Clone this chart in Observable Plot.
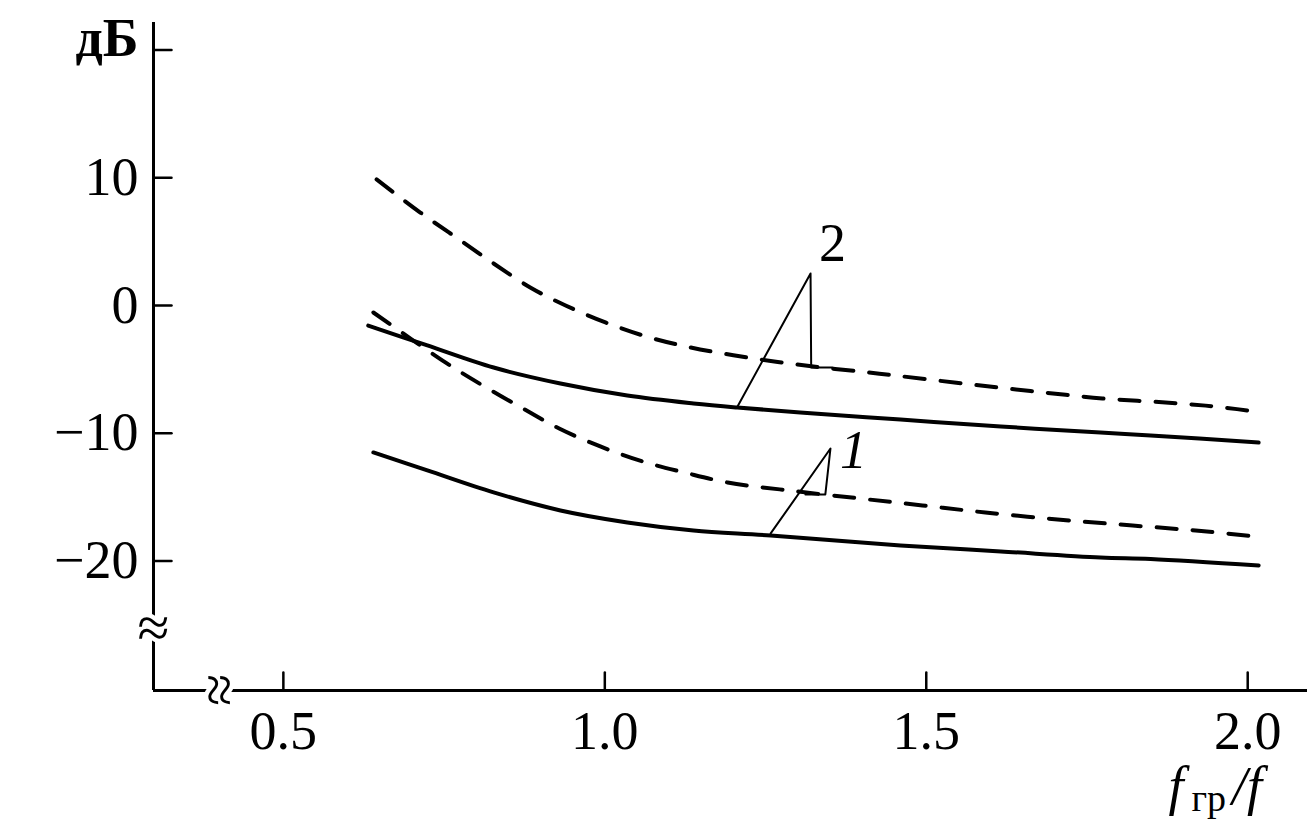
<!DOCTYPE html>
<html>
<head>
<meta charset="utf-8">
<script src="https://cdn.jsdelivr.net/npm/d3@7"></script>
<script src="https://cdn.jsdelivr.net/npm/@observablehq/plot@0.6"></script>
<style>
  html, body { margin: 0; padding: 0; background: #fff; }
  #chart svg { display: block; }
</style>
</head>
<body>
<div id="chart"></div>
<script>
// ---- Data ----
// Curve 2, solid
const curve2SolidX = [0.632, 0.724, 0.827, 0.931, 1.035, 1.138, 1.206, 1.304, 1.460, 1.616, 1.771, 1.849, 2.017];
const curve2SolidY = [-1.57, -3.13, -4.86, -6.11, -7.05, -7.67, -7.99, -8.38, -8.93, -9.48, -9.95, -10.18, -10.73];
// Curve 2, dashed
const curve2DashedX = [0.645, 0.713, 0.771, 0.827, 0.884, 0.939, 1.001, 1.066, 1.130, 1.200, 1.269, 1.339, 1.406, 1.454, 1.547, 1.625, 1.697, 1.774, 1.888, 1.956, 2.023];
const curve2DashedY = [9.87, 7.28, 5.25, 3.29, 1.41, 0.0, -1.33, -2.45, -3.25, -3.90, -4.42, -4.86, -5.22, -5.50, -6.05, -6.50, -6.89, -7.28, -7.65, -7.95, -8.38];
// Curve 1, solid
const curve1SolidX = [0.640, 0.724, 0.827, 0.931, 1.035, 1.138, 1.258, 1.460, 1.616, 1.771, 1.849, 2.017];
const curve1SolidY = [-11.51, -12.92, -14.64, -16.05, -16.99, -17.62, -18.01, -18.79, -19.26, -19.73, -19.85, -20.36];
// Curve 1, dashed
const curve1DashedX = [0.640, 0.752, 0.810, 0.870, 0.929, 0.993, 1.059, 1.124, 1.191, 1.287, 1.396, 1.494, 1.592, 1.723, 1.821, 1.919, 2.012];
const curve1DashedY = [-0.55, -4.46, -6.26, -7.99, -9.63, -11.04, -12.22, -13.08, -13.86, -14.49, -15.11, -15.66, -16.21, -16.84, -17.23, -17.62, -18.09];

// Annotation leaders (data units) and labels
const leader2X = [1.206, 1.320, 1.321, 1.354];
const leader2Y = [-7.95, 2.51, -4.86, -4.86];
const leader1X = [1.258, 1.351, 1.343, 1.312];
const leader1Y = [-17.85, -11.20, -14.80, -14.80];
const seriesLabels = ["2", "1"];
const seriesLabelX = [1.354, 1.387];
const seriesLabelY = [4.86, -11.35];

// Axes
const xTicks = [0.5, 1.0, 1.5, 2.0];
const xTickLabels = ["0.5", "1.0", "1.5", "2.0"];
const yTicks = [20, 10, 0, -10, -20];
const yNumTicks = [10, 0, -10, -20];
const yNumLabels = ["10", "0", "−10", "−20"];
const yUnitLabel = "дБ";
const xTitleParts = ["f", "гр", "/f"];
const xDomain = [0.298, 2.093];
const yDomain = [-30.15, 22.16];
const yBreakAt = -25.3;
const xBreakAt = 0.3996;

// ---- Build ----
const toRows = (xs, ys) => xs.map((x, i) => ({x, y: ys[i]}));
const serif = "'Liberation Serif', 'Times New Roman', serif";
const tickShape = {draw(ctx, l) { ctx.moveTo(0, 0); ctx.lineTo(0, -l); }};

const chart = Plot.plot({
  width: 1307,
  height: 827,
  marginLeft: 153,
  marginRight: 0,
  marginTop: 22,
  marginBottom: 137,
  x: {domain: xDomain},
  y: {domain: yDomain},
  style: {fontFamily: serif, fontSize: "54px", background: "#fff", color: "#000", overflow: "visible"},
  marks: [
    // axis lines
    Plot.ruleX([xDomain[0]], {stroke: "#000", strokeWidth: 3}),
    Plot.ruleY([yDomain[0]], {stroke: "#000", strokeWidth: 3}),
    // inward ticks
    Plot.vector(xTicks, {x: d => d, y: yDomain[0], length: 18, rotate: 0, anchor: "start", shape: tickShape, stroke: "#000", strokeWidth: 2.5}),
    Plot.vector(yTicks, {x: xDomain[0], y: d => d, length: 18, rotate: 90, anchor: "start", shape: tickShape, stroke: "#000", strokeWidth: 2.5}),
    // tick labels
    Plot.axisX({ticks: xTicks, tickFormat: d => xTickLabels[xTicks.indexOf(d)], tickSize: 0, tickPadding: 20, label: null, fontSize: 54, fontFamily: serif}),
    Plot.axisY({ticks: yNumTicks, tickFormat: d => yNumLabels[yNumTicks.indexOf(d)], tickSize: 0, tickPadding: 15, label: null, fontSize: 54, fontFamily: serif}),
    Plot.text([yUnitLabel], {x: xDomain[0], y: yTicks[0], text: d => d, textAnchor: "end", dx: -15, dy: -11, fontWeight: "bold", fontSize: 54, fontFamily: serif, fill: "#000"}),
    // axis breaks
    Plot.text(["≈"], {x: xDomain[0], y: yBreakAt, text: d => d, fontSize: 58, fontFamily: serif, fill: "#000", stroke: "#fff", strokeWidth: 9}),
    Plot.text(["≈"], {x: xBreakAt, y: yDomain[0], text: d => d, rotate: 90, fontSize: 58, fontFamily: serif, fill: "#000", stroke: "#fff", strokeWidth: 9}),
    // curves
    Plot.line(toRows(curve2DashedX, curve2DashedY), {x: "x", y: "y", curve: "catmull-rom", stroke: "#000", strokeWidth: 4, strokeDasharray: "20,16"}),
    Plot.line(toRows(curve1DashedX, curve1DashedY), {x: "x", y: "y", curve: "catmull-rom", stroke: "#000", strokeWidth: 4, strokeDasharray: "20,16"}),
    Plot.line(toRows(curve2SolidX, curve2SolidY), {x: "x", y: "y", curve: "catmull-rom", stroke: "#000", strokeWidth: 4}),
    Plot.line(toRows(curve1SolidX, curve1SolidY), {x: "x", y: "y", curve: "catmull-rom", stroke: "#000", strokeWidth: 4}),
    // annotation leaders
    Plot.line(toRows(leader2X, leader2Y), {x: "x", y: "y", stroke: "#000", strokeWidth: 2}),
    Plot.line(toRows(leader1X, leader1Y), {x: "x", y: "y", stroke: "#000", strokeWidth: 2}),
    // annotation labels
    Plot.text([0], {x: seriesLabelX[0], y: seriesLabelY[0], text: () => seriesLabels[0], fontSize: 54, fontFamily: serif, fill: "#000"}),
    Plot.text([0], {x: seriesLabelX[1], y: seriesLabelY[1], text: () => seriesLabels[1], fontSize: 54, fontFamily: serif, fontStyle: "italic", fill: "#000"})
  ]
});

// x-axis title with subscript, positioned from the x and y scales
const sx = chart.scale("x"), sy = chart.scale("y");
const title = d3.select(chart).append("text")
  .attr("x", sx.apply(xTicks[3]) - 32)
  .attr("y", sy.apply(yDomain[0]) + 114)
  .attr("font-family", serif)
  .attr("font-size", 54)
  .attr("fill", "#000");
title.append("tspan").attr("font-style", "italic").text(xTitleParts[0]);
title.append("tspan").attr("font-size", 38).attr("dy", 7).attr("dx", 8).text(xTitleParts[1]);
title.append("tspan").attr("font-style", "italic").attr("dy", -7).attr("dx", 6).text(xTitleParts[2]);

document.getElementById("chart").appendChild(chart);
</script>
</body>
</html>
